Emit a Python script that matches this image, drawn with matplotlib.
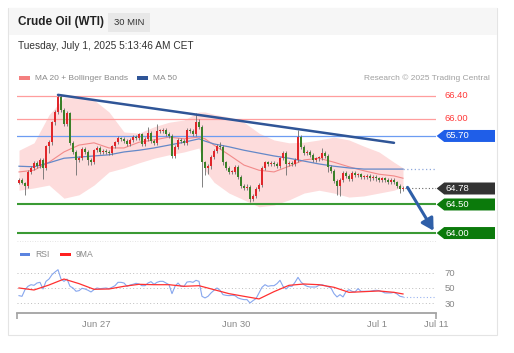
import matplotlib
matplotlib.use("Agg")
import matplotlib.pyplot as plt
import matplotlib.transforms as mtransforms
from matplotlib.patches import Rectangle, Polygon
from matplotlib.lines import Line2D
import numpy as np

plt.rcParams['font.family'] = ['Liberation Sans', 'DejaVu Sans']

# ---- data (30 min bars, index 0 = first bar on screen) ----
first_open = 64.88
closes = [64.93, 64.88, 64.82, 65.07, 65.14, 65.23, 65.17, 65.28, 65.14, 65.52,
          65.59, 65.94, 66.12, 66.38, 66.16, 65.91, 66.10, 65.58, 65.42, 65.28,
          65.31, 65.47, 65.42, 65.28, 65.24, 65.45, 65.49, 65.42, 65.44, 65.42,
          65.40, 65.52, 65.59, 65.66, 65.65, 65.61, 65.56, 65.63, 65.68, 65.66,
          65.73, 65.56, 65.65, 65.75, 65.61, 65.58, 65.79, 65.79, 65.80, 65.73,
          65.70, 65.35, 65.51, 65.63, 65.61, 65.58, 65.80, 65.79, 65.73, 65.94,
          65.86, 65.24, 65.14, 65.17, 65.33, 65.44, 65.52, 65.51, 65.24, 65.14,
          65.07, 65.07, 65.16, 64.98, 64.82, 64.79, 64.81, 64.60, 64.65, 64.77,
          64.84, 65.14, 65.24, 65.21, 65.23, 65.21, 65.17, 65.31, 65.40, 65.21,
          65.23, 65.21, 65.28, 65.68, 65.51, 65.40, 65.42, 65.37, 65.28, 65.31,
          65.31, 65.40, 65.35, 65.16, 65.09, 64.91, 64.82, 64.93, 65.05, 65.00,
          64.95, 65.05, 65.02, 65.03, 64.98, 64.98, 65.00, 64.96, 64.98, 64.96,
          64.93, 64.96, 64.93, 64.89, 64.93, 64.89, 64.82, 64.77, 64.78]
highs = [64.96, 64.97, 64.90, 65.10, 65.18, 65.26, 65.27, 65.31, 65.31, 65.55,
         65.63, 65.97, 66.16, 66.42, 66.42, 66.19, 66.14, 66.12, 65.61, 65.45,
         65.35, 65.50, 65.50, 65.45, 65.31, 65.48, 65.52, 65.52, 65.47, 65.47,
         65.45, 65.55, 65.62, 65.70, 65.69, 65.68, 65.64, 65.66, 65.72, 65.71,
         65.76, 65.76, 65.68, 65.86, 65.78, 65.64, 65.91, 65.83, 65.84, 65.84,
         65.77, 65.73, 65.54, 65.66, 65.67, 65.65, 65.84, 65.84, 65.83, 66.10,
         66.00, 65.89, 65.27, 65.21, 65.37, 65.47, 65.56, 65.60, 65.54, 65.27,
         65.17, 65.11, 65.19, 65.19, 65.01, 64.85, 64.85, 64.84, 64.69, 64.80,
         64.87, 65.17, 65.27, 65.27, 65.26, 65.26, 65.24, 65.34, 65.43, 65.43,
         65.26, 65.26, 65.31, 65.80, 65.71, 65.54, 65.45, 65.45, 65.40, 65.34,
         65.35, 65.49, 65.43, 65.38, 65.19, 65.12, 64.94, 64.96, 65.08, 65.08,
         65.03, 65.08, 65.08, 65.06, 65.06, 65.02, 65.03, 65.03, 65.01, 65.01,
         64.99, 64.99, 64.99, 64.96, 64.96, 64.96, 64.92, 64.85, 64.82]
lows = [64.85, 64.85, 64.66, 64.79, 65.04, 65.11, 65.14, 65.14, 64.95, 65.10,
        65.40, 65.55, 65.90, 66.08, 66.12, 65.87, 65.88, 65.54, 65.38, 65.02,
        65.24, 65.28, 65.39, 65.20, 65.20, 65.21, 65.42, 65.39, 65.39, 65.39,
        65.37, 65.37, 65.49, 65.56, 65.61, 65.58, 65.53, 65.53, 65.60, 65.63,
        65.63, 65.52, 65.53, 65.62, 65.58, 65.55, 65.55, 65.75, 65.76, 65.70,
        65.66, 65.31, 65.31, 65.47, 65.57, 65.55, 65.55, 65.75, 65.70, 65.70,
        65.82, 64.80, 65.02, 65.03, 65.13, 65.30, 65.41, 65.47, 65.20, 65.10,
        65.03, 65.03, 65.03, 64.94, 64.78, 64.75, 64.75, 64.54, 64.56, 64.62,
        64.74, 64.81, 65.11, 65.17, 65.18, 65.18, 65.14, 65.14, 65.28, 65.02,
        65.17, 65.17, 65.18, 65.25, 65.47, 65.37, 65.37, 65.33, 65.24, 65.25,
        65.27, 65.28, 65.32, 65.07, 65.05, 64.87, 64.67, 64.64, 64.90, 64.96,
        64.91, 64.92, 64.98, 64.99, 64.94, 64.94, 64.95, 64.92, 64.93, 64.92,
        64.89, 64.90, 64.89, 64.85, 64.86, 64.85, 64.78, 64.70, 64.73]

# indicators, read at a subset of bars
ind_idx = [0, 5, 10, 15, 20, 25, 30, 35, 40, 45, 50, 55, 60, 62, 65, 70, 75, 80,
           85, 90, 95, 100, 105, 110, 115, 120, 125, 128]
bb_upper = [65.45, 65.58, 66.07, 66.37, 66.37, 66.33, 66.12, 65.77, 65.75, 65.86,
            65.94, 65.98, 66.12, 66.12, 66.08, 66.03, 65.94, 65.75, 65.63, 65.58,
            65.59, 65.63, 65.68, 65.63, 65.52, 65.42, 65.24, 65.14]
bb_lower = [64.75, 64.79, 64.84, 64.61, 64.67, 64.84, 65.07, 65.14, 65.23, 65.31,
            65.37, 65.42, 65.49, 65.10, 64.89, 64.70, 64.58, 64.46, 64.49, 64.58,
            64.70, 64.75, 64.70, 64.63, 64.65, 64.70, 64.75, 64.81]
ma20 = [65.07, 65.10, 65.24, 65.42, 65.54, 65.58, 65.49, 65.49, 65.59, 65.63,
        65.68, 65.65, 65.68, 65.65, 65.54, 65.37, 65.19, 65.10, 65.07, 65.17,
        65.28, 65.31, 65.24, 65.16, 65.09, 65.03, 65.00, 64.96]
ma50 = [65.17, 65.16, 65.23, 65.31, 65.33, 65.35, 65.37, 65.42, 65.45, 65.49,
        65.54, 65.59, 65.65, 65.61, 65.56, 65.51, 65.45, 65.40, 65.35, 65.31,
        65.26, 65.21, 65.17, 65.14, 65.12, 65.12, 65.12, 65.12]

rsi = [40.0, 39.1, 47.8, 52.2, 54.3, 53.5, 56.5, 57.4, 48.7, 58.7,
       61.7, 67.4, 70.9, 73.9, 61.7, 58.7, 61.7, 52.2, 50.0, 45.7,
       46.5, 49.6, 48.7, 47.0, 44.8, 47.8, 50.0, 49.1, 49.6, 50.0,
       49.1, 50.9, 53.0, 57.4, 57.4, 56.5, 52.2, 53.9, 54.8, 56.1,
       55.2, 53.0, 53.0, 56.5, 58.3, 54.8, 57.4, 58.7, 58.7, 56.5,
       54.3, 42.6, 52.2, 56.5, 52.2, 52.2, 57.8, 58.3, 57.4, 60.0,
       58.7, 39.1, 37.0, 39.1, 43.5, 47.0, 50.0, 47.0, 41.3, 40.4,
       40.0, 40.4, 40.0, 37.0, 35.7, 34.8, 34.8, 30.4, 33.5, 36.1,
       43.5, 50.9, 54.3, 52.2, 53.0, 53.0, 55.7, 60.0, 52.2, 48.7,
       52.2, 52.2, 57.4, 63.9, 57.8, 54.3, 52.2, 51.3, 51.3, 51.3,
       53.5, 54.3, 53.0, 51.7, 50.0, 42.6, 38.3, 41.3, 38.3, 45.2,
       47.8, 45.7, 44.8, 49.1, 45.7, 45.7, 45.7, 45.7, 46.5, 47.0,
       46.5, 45.2, 43.5, 43.5, 43.5, 44.3, 42.2, 39.1, 38.3]
rsi_ma_idx = [0, 5, 10, 15, 20, 25, 30, 35, 40, 45, 50, 55, 60, 65, 70, 75, 80,
              85, 90, 95, 100, 105, 110, 115, 120, 125, 128]
rsi_ma9 = [50.0, 47.4, 53.9, 61.7, 55.7, 48.3, 48.7, 52.2, 54.8, 54.3, 54.3, 52.2,
           53.0, 47.8, 42.6, 39.1, 35.7, 45.2, 53.5, 55.2, 54.3, 50.9, 44.3, 45.2,
           46.1, 44.3, 42.2]

trend_idx = [13, 125]
trend_px = [66.42, 65.58]
resistances = [66.40, 66.00]
pivot = 65.70
last_price = 64.78
supports = [64.50, 64.00]
target_price = 64.00

date_ticks = [25.7, 72.3, 119.3, 139]
date_labels = ['Jun 27', 'Jun 30', 'Jul 1', 'Jul 11']
X_END = 139

# ---- figure ----
W, H = 514, 353
fig = plt.figure(figsize=(W / 100, H / 100), dpi=100)


def fx(x):
    return x / W


def fy(y):
    return 1 - y / H


# card + header (behind the axes)
fig.add_artist(Rectangle((fx(8), fy(335)), fx(489), (335 - 8) / H, transform=fig.transFigure,
                         fc='white', ec='#e4e4e4', lw=0.8, zorder=-10))
fig.add_artist(Rectangle((fx(8.5), fy(35)), fx(488), 27 / H, transform=fig.transFigure,
                         fc='#f6f6f6', ec='none', zorder=-9))
fig.add_artist(Rectangle((fx(108), fy(32)), fx(42), 19 / H, transform=fig.transFigure,
                         fc='#e8e8e8', ec='none', zorder=-8))
fig.text(fx(18), fy(22.5), 'Crude Oil (WTI)', fontsize=8.5, weight='bold', color='#222222', va='center')
fig.text(fx(129), fy(22.5), '30 MIN', fontsize=6.8, color='#333333', ha='center', va='center')
fig.text(fx(18), fy(46), 'Tuesday, July 1, 2025 5:13:46 AM CET', fontsize=7.3, color='#333333', va='center')

# legend row
fig.add_artist(Rectangle((fx(19), fy(79.5)), fx(11), 3 / H, transform=fig.transFigure, fc='#f47f7f', ec='none'))
fig.text(fx(35), fy(78), 'MA 20 + Bollinger Bands', fontsize=6.0, color='#8a8a8a', va='center')
fig.add_artist(Rectangle((fx(137), fy(79.5)), fx(11), 3 / H, transform=fig.transFigure, fc='#2f5597', ec='none'))
fig.text(fx(153), fy(78), 'MA 50', fontsize=6.0, color='#8a8a8a', va='center')
fig.text(fx(490), fy(78), 'Research \u00a9 2025 Trading Central', fontsize=6.0, color='#a0a0a0',
         ha='right', va='center')

# ---- price panel ----
ax = fig.add_axes([fx(17), fy(240), fx(419), 152 / H])
ax.set_xlim(-2 / 3, X_END)
ax.set_ylim(63.878, 66.54)
ax.axis('off')

ax.fill_between(ind_idx, bb_lower, bb_upper, color='#fddcdc', lw=0, zorder=1)
ax.plot(ind_idx, ma20, color='#f28a8a', lw=0.8, zorder=2)
ax.plot(ind_idx, ma50, color='#6488c8', lw=0.9, zorder=2)
ax.plot([ind_idx[-1], X_END], [ma50[-1]] * 2, color='#8fa8dc', lw=0.9, ls=(0, (1, 2)), zorder=2)

for lvl in resistances:
    ax.axhline(lvl, color='#ff9d9d', lw=0.9, zorder=2)
ax.axhline(pivot, color='#6c9cf2', lw=0.9, zorder=2)
for lvl in supports:
    ax.axhline(lvl, color='#3a9a34', lw=1.5, zorder=2)

# candles
idx = np.arange(len(closes))
c = np.array(closes)
o = np.array([first_open] + closes[:-1])
col = np.where(c >= o, '#e0262a', '#3b8029')
ax.vlines(idx, lows, highs, color='#6d6d6d', lw=0.6, zorder=3)
ax.bar(idx, np.maximum(np.abs(c - o), 0.015), bottom=np.minimum(o, c), width=0.75,
       color=col, lw=0, zorder=4)

# trend line, last price and projection arrow
ax.plot(trend_idx, trend_px, color='#2f5597', lw=1.8, solid_capstyle='round', zorder=5)
ax.plot([idx[-1] + 0.5, X_END], [last_price] * 2, color='#666666', lw=0.8, ls=(0, (1, 2)), zorder=2)
ax.annotate('', xy=(X_END - 0.8, target_price + 0.04), xytext=(idx[-1] + 1.5, last_price + 0.02),
            arrowprops=dict(arrowstyle='-|>,head_length=0.7,head_width=0.4', color='#2f5fa8',
                            lw=2.2, shrinkA=0, shrinkB=0), zorder=6)

# right-hand level labels
tr = mtransforms.blended_transform_factory(ax.transAxes, ax.transData)
x0, x1, notch, half = 1.0015, 1.1408, 0.018, 0.105


def tag(level, color):
    pts = [(x0, level), (x0 + notch, level + half), (x1, level + half),
           (x1, level - half), (x0 + notch, level - half)]
    ax.add_patch(Polygon(pts, closed=True, transform=tr, fc=color, ec='none', clip_on=False))
    ax.text(1.0215, level, f'{level:.2f}', transform=tr, color='white', fontsize=6.8,
            va='center', ha='left', clip_on=False)


for lvl in resistances:
    ax.text(1.0195, lvl, f'{lvl:.2f}', transform=tr, color='#ff3a3a', fontsize=6.8,
            va='center', ha='left', clip_on=False)
tag(pivot, '#1f5ee8')
tag(last_price, '#333333')
for lvl in supports:
    tag(lvl, '#0b7a0b')

fig.add_artist(Line2D([fx(17), fx(436)], [fy(241), fy(241)], transform=fig.transFigure,
                      color='#dcdcdc', lw=0.6, ls=(0, (1, 2))))

# ---- RSI panel ----
ax2 = fig.add_axes([fx(17), fy(313), fx(419), 55 / H])
ax2.set_xlim(-2 / 3, X_END)
ax2.set_ylim(17.3, 89.2)
for lvl in (30, 50, 70):
    ax2.axhline(lvl, color='#bdbdbd', lw=0.7, ls=(0, (1, 2.5)), zorder=1)
ax2.plot(idx, rsi, color='#86a6ee', lw=0.8, zorder=2)
ax2.plot([idx[-1], X_END], [rsi[-1]] * 2, color='#9ab4f0', lw=0.8, ls=(0, (1, 2)), zorder=2)
ax2.plot(rsi_ma_idx, rsi_ma9, color='#ff3030', lw=0.9, zorder=3)

for s in ('top', 'left', 'right'):
    ax2.spines[s].set_visible(False)
ax2.spines['bottom'].set_color('#a3a3a3')
ax2.spines['bottom'].set_linewidth(1.3)
ax2.yaxis.tick_right()
ax2.set_yticks([30, 50, 70])
ax2.tick_params(axis='y', length=0, pad=6, labelsize=6.8, labelcolor='#888888')
ax2.xaxis.remove_overlapping_locs = False
ax2.set_xticks(date_ticks)
ax2.set_xticklabels(date_labels)
ax2.tick_params(axis='x', which='major', length=0, pad=5, labelsize=6.8, labelcolor='#888888')
ax2.set_xticks([-2 / 3, X_END], minor=True)
ax2.tick_params(axis='x', which='minor', length=4, width=1.2, color='#a3a3a3')
ax2.patch.set_alpha(0)

fig.add_artist(Rectangle((fx(20), fy(256)), fx(10), 3 / H, transform=fig.transFigure, fc='#5b84e0', ec='none'))
fig.text(fx(35), fy(254.5), 'RSI', fontsize=6.2, color='#8a8a8a', va='center')
fig.add_artist(Rectangle((fx(60), fy(256)), fx(11), 3 / H, transform=fig.transFigure, fc='#ff2020', ec='none'))
fig.text(fx(76), fy(254.5), '9MA', fontsize=6.2, color='#8a8a8a', va='center')

fig.savefig('out.png', dpi=100)
